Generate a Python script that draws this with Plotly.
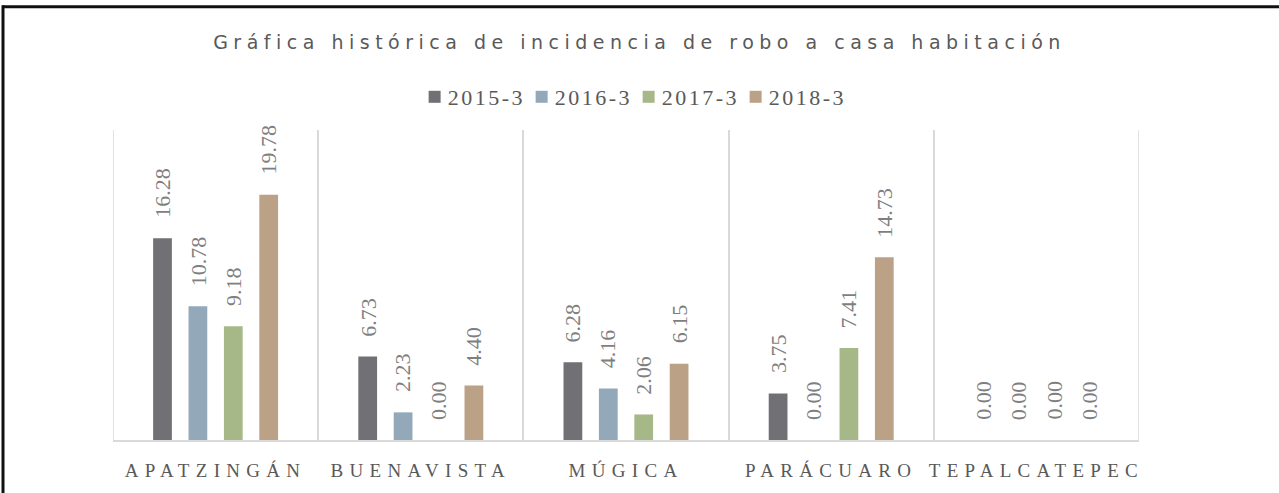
import plotly.graph_objects as go

categories = ["APATZINGÁN", "BUENAVISTA", "MÚGICA", "PARÁCUARO", "TEPALCATEPEC"]
series_names = ["2015-3", "2016-3", "2017-3", "2018-3"]
v2015 = [16.28, 6.73, 6.28, 3.75, 0.00]
v2016 = [10.78, 2.23, 4.16, 0.00, 0.00]
v2017 = [9.18, 0.00, 2.06, 7.41, 0.00]
v2018 = [19.78, 4.40, 6.15, 14.73, 0.00]
series_values = [v2015, v2016, v2017, v2018]
colors = ["#717075", "#93A9B9", "#A7B888", "#BBA186"]

W, H = 1279, 493
ml, mr, mt, mb = 113, 140, 127, 53
plot_w = W - ml - mr
plot_h = H - mt - mb

fig = go.Figure()
for name, vals, col in zip(series_names, series_values, colors):
    fig.add_trace(go.Bar(
        name=name, x=categories, y=vals, marker=dict(color=col, line=dict(width=0)),
    ))

bargap = 0.31
bargroupgap = 0.47
slot = plot_w / len(categories) * (1 - bargap) / len(series_names)

annotations = []
for i, vals in enumerate(series_values):
    for cat, v in zip(categories, vals):
        annotations.append(dict(
            x=cat, y=v, xref="x", yref="y", text=f"{v:.2f}", showarrow=False,
            textangle=-90, yanchor="bottom", xanchor="center",
            xshift=(i - 1.5) * slot, yshift=18,
            font=dict(family="Liberation Serif", size=22, color="#7F7F7F"),
        ))

shapes = [
    dict(type="line", xref="paper", yref="paper",
         x0=(2.5 - ml) / plot_w, x1=(W - ml) / plot_w,
         y0=(H - mb - 2.5) / plot_h, y1=(H - mb - 2.5) / plot_h,
         line=dict(color="#111111", width=3)),
    dict(type="line", xref="paper", yref="paper",
         x0=(3 - ml) / plot_w, x1=(3 - ml) / plot_w,
         y0=(H - mb - 1) / plot_h, y1=(-mb - 5) / plot_h,
         line=dict(color="#111111", width=3)),
]
for xb in (-0.5, len(categories) - 0.5):
    shapes.append(dict(type="line", xref="x", yref="paper", x0=xb, x1=xb, y0=0, y1=1,
                       line=dict(color="#D9D9D9", width=1.5), layer="below"))

fig.update_layout(
    width=W, height=H,
    margin=dict(l=ml, r=mr, t=mt, b=mb),
    paper_bgcolor="white", plot_bgcolor="white",
    barmode="group", bargap=bargap, bargroupgap=bargroupgap,
    title=dict(text="Gráfica histórica de incidencia de robo a casa habitación",
               x=0.5, xref="container", xanchor="center",
               y=1 - 42 / H, yref="container", yanchor="middle",
               font=dict(family="DejaVu Sans", size=19, color="#595959")),
    legend=dict(orientation="h", x=0.4915, xref="container", xanchor="center",
                y=1 - 97 / H, yref="container", yanchor="middle",
                font=dict(family="Liberation Serif", size=22, color="#595959"),
                itemwidth=30, entrywidth=62, traceorder="normal", itemclick=False),
    showlegend=True,
    xaxis=dict(type="category", range=[-0.5, 4.5], tickson="boundaries",
               showgrid=True, gridcolor="#D9D9D9", gridwidth=1.5,
               showline=True, linecolor="#D9D9D9", linewidth=2,
               ticks="", ticklabelstandoff=12,
               tickfont=dict(family="Liberation Serif", size=19, color="#595959"),
               fixedrange=True),
    yaxis=dict(range=[0, 25], showgrid=False, showticklabels=False,
               zeroline=False, showline=False, fixedrange=True),
    annotations=annotations,
    shapes=shapes,
)

post = """
document.body.style.margin='0';
document.querySelectorAll('.gtitle').forEach(function(e){e.style.letterSpacing='5.5px';});
document.querySelectorAll('.xtick text').forEach(function(e){e.style.letterSpacing='6.3px';});
document.querySelectorAll('.legendtext').forEach(function(e){
  e.style.letterSpacing='2.5px';
  var x = parseFloat(e.getAttribute('x') || '0');
  e.setAttribute('x', x - 7);
});
document.querySelectorAll('.legend .scrollbox').forEach(function(e){e.removeAttribute('clip-path');});
"""

fig.write_html("out.html", config={"displayModeBar": False}, post_script=post)
